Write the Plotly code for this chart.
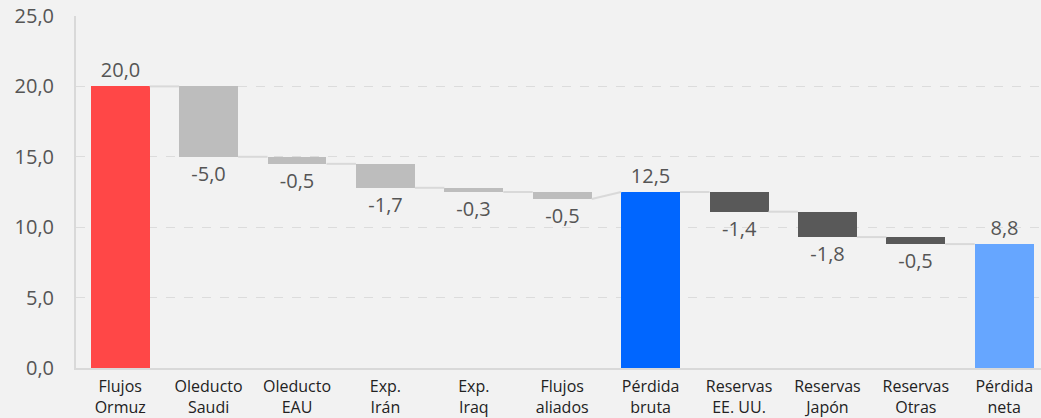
import plotly.graph_objects as go

categories = ["Flujos<br>Ormuz", "Oleducto<br>Saudi", "Oleducto<br>EAU", "Exp.<br>Irán", "Exp.<br>Iraq",
              "Flujos<br>aliados", "Pérdida<br>bruta", "Reservas<br>EE. UU.", "Reservas<br>Japón",
              "Reservas<br>Otras", "Pérdida<br>neta"]
values = [20.0, -5.0, -0.5, -1.7, -0.3, -0.5, 12.5, -1.4, -1.8, -0.5, 8.8]
measures = ["total", "relative", "relative", "relative", "relative", "relative",
            "total", "relative", "relative", "relative", "total"]
colors = ["#FF4747", "#BDBDBD", "#BDBDBD", "#BDBDBD", "#BDBDBD", "#BDBDBD",
          "#0066FF", "#595959", "#595959", "#595959", "#66A6FF"]

BAR_W = 0.667
n = len(values)
xs = list(range(n))

bases, heights, starts, ends = [], [], [], []
level = 0.0
for v, m in zip(values, measures):
    if m == "total":
        bases.append(0.0)
        heights.append(v)
        starts.append(v)
        level = v
    else:
        bases.append(level)
        heights.append(v)
        starts.append(level)
        level = level + v
    ends.append(level)

labels = [f"{v:.1f}".replace(".", ",") for v in values]

cx, cy = [], []
for i in range(n - 1):
    cx += [xs[i] + BAR_W / 2, xs[i + 1] - BAR_W / 2, None]
    cy += [ends[i], starts[i + 1], None]

fig = go.Figure()
fig.add_trace(go.Scatter(x=cx, y=cy, mode="lines", line=dict(color="#D9D9D9", width=2),
                         hoverinfo="skip", showlegend=False))
fig.add_trace(go.Bar(x=xs, y=heights, base=bases, width=BAR_W, marker=dict(color=colors, line=dict(width=0)),
                     text=labels, textposition="outside", constraintext="none", cliponaxis=False,
                     textfont=dict(size=20, color="#555555", family="Open Sans"), showlegend=False))

fig.update_layout(
    width=1041, height=418,
    margin=dict(l=76, r=0, t=16, b=50, autoexpand=False),
    paper_bgcolor="#F2F2F2", plot_bgcolor="#F2F2F2",
    font=dict(family="Open Sans", color="#555555"),
    bargap=0,
    xaxis=dict(range=[-0.5, 10.416], tickmode="array", tickvals=xs, ticktext=categories,
               showgrid=False, zeroline=False, showline=True, linecolor="#D9D9D9", linewidth=2,
               tickfont=dict(size=16, color="#222222"), ticks="", ticklabelstandoff=3, automargin=False),
    yaxis=dict(range=[0, 25], tickvals=[0, 5, 10, 15, 20, 25], tickformat=".1f",
               showgrid=True, gridcolor="#DCDCDC", griddash="dash", gridwidth=1,
               zeroline=False, showline=True, linecolor="#D9D9D9", linewidth=2,
               tickfont=dict(size=20, color="#555555"), ticks="", ticklabelstandoff=16, automargin=False),
    separators=", ",
)

fig.write_html("out.html", config={"displayModeBar": False},
               post_script="document.body.style.margin='0';document.body.style.overflow='hidden';")
